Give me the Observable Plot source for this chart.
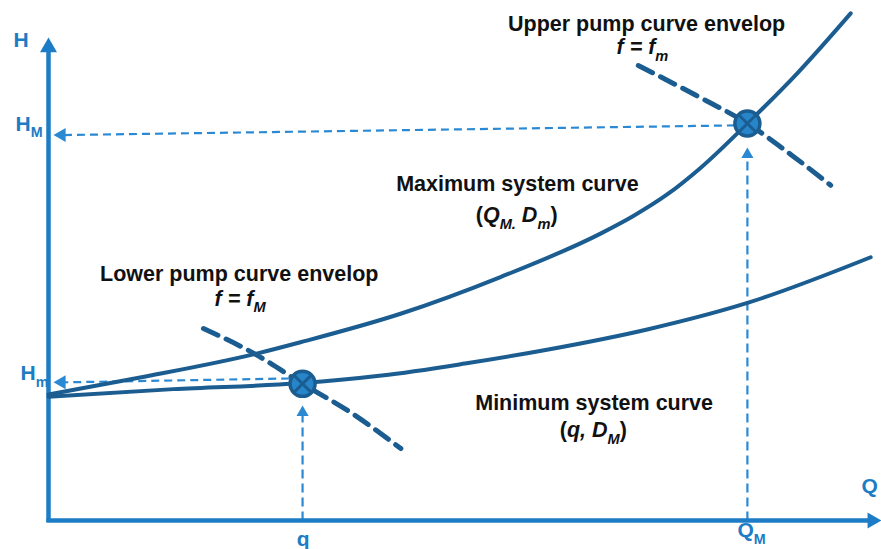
<!DOCTYPE html>
<html>
<head>
<meta charset="utf-8">
<script src="https://cdn.jsdelivr.net/npm/d3@7"></script>
<script src="https://cdn.jsdelivr.net/npm/@observablehq/plot@0.6"></script>
<style>
  html, body { margin: 0; padding: 0; background: #fff; }
  #chart svg { display: block; }
</style>
</head>
<body>
<div id="chart"></div>
<script>
// ---------------- data (schematic units: Q flow 0..100, H head 0..100) ----------------
const qMax = [0, 11, 25.1, 30.25, 42.26, 54.26, 66.27, 70.26, 74.27, 78.27, 83.9, 90, 96.3];
const hMax = [26.1, 29.6, 34.6, 36.9, 42.8, 50.4, 59.4, 63.1, 67.5, 73.0, 82.2, 92.8, 105.0];

const qMin = [0, 15, 30, 40, 50, 60, 72, 84, 98.7];
const hMin = [25.6, 27.2, 28.4, 30.0, 32.5, 35.4, 39.6, 45.1, 54.5];

const qUpperPump = [70.8, 78.3, 83.9, 89.1, 93.9];
const hUpperPump = [94.2, 87.5, 82.2, 75.8, 69.4];

const qLowerPump = [18.6, 24.85, 30.5, 36.25, 42.3];
const hLowerPump = [39.75, 34.4, 28.3, 22.4, 14.9];

// operating points (q, Hm) and (QM, HM)
const opQ = [30.5, 83.9];
const opH = [28.3, 82.2];

// projection arrows
const hProjStartQ = [28.9, 82.4];
const hProjStartH = [29.4, 81.8];
const hProjTipQ = [0.6, 0.6];
const hProjTipH = [28.6, 79.8];
const vProjTipH = [23.8, 77.2];

// axes extents
const axisQmax = 100;
const axisHmax = 100;

// labels
const noteText = [
  "Upper pump curve envelop", "*f = f_{m}*",
  "Maximum system curve", "(*Q_{M.} D_{m}*)",
  "Lower pump curve envelop", "*f = f_{M}*",
  "Minimum system curve", "(*q, D_{M}*)"
];
const noteQ = [71.8, 71.3, 56.3, 56.2, 22.9, 23.0, 65.5, 65.4];
const noteH = [101.3, 96.5, 68.3, 61.7, 49.5, 44.5, 22.8, 17.2];

const axisText = ["H", "H_{M}", "H_{m}", "q", "Q_{M}", "Q"];
const axisTextQ = [-4.2, -3.96, -3.36, 29.8, 82.7, 97.6];
const axisTextH = [98.1, 80.7, 29.0, -5.18, -3.5, 5.6];

// ---------------- styles ----------------
const axisColor = "#1c7cc5";
const projColor = "#2a89d2";
const curveColor = "#1b5d90";
const markerFill = "#2785ca";

const zip = (xs, ys) => xs.map((x, i) => ({x, y: ys[i]}));

const chart = Plot.plot({
  width: 881,
  height: 549,
  marginLeft: 48,
  marginRight: 0,
  marginTop: 37,
  marginBottom: 29,
  x: {domain: [0, axisQmax], axis: null},
  y: {domain: [0, axisHmax], axis: null},
  style: {fontFamily: "'Liberation Sans', Arial, Helvetica, sans-serif", background: "#fff", overflow: "visible"},
  marks: [
    // projection dashed lines
    Plot.link(opQ.map((d, i) => i), {
      x1: hProjStartQ, y1: hProjStartH, x2: hProjTipQ.map(d => d + 1), y2: hProjTipH,
      stroke: projColor, strokeWidth: 2.2, strokeDasharray: "8,5"
    }),
    Plot.link(opQ.map((d, i) => i), {
      x1: opQ, y1: opQ.map(() => 0), x2: opQ, y2: vProjTipH.map(h => h - 1.5),
      stroke: projColor, strokeWidth: 2.2, strokeDasharray: "9,5"
    }),
    Plot.dot(zip(hProjTipQ, hProjTipH), {
      x: "x", y: "y", symbol: "triangle", r: 5.2, rotate: -90, dx: 8.1,
      fill: projColor, stroke: "none"
    }),
    Plot.dot(zip(opQ, vProjTipH), {
      x: "x", y: "y", symbol: "triangle", r: 4.5, dy: 6.9,
      fill: projColor, stroke: "none"
    }),
    // axes
    Plot.link([0, 1], {
      x1: [0, -0.25], y1: [-0.3, 0], x2: [0, axisQmax - 1.5], y2: [axisHmax - 2.5, 0],
      stroke: axisColor, strokeWidth: 4.5
    }),
    Plot.dot([{x: 0, y: axisHmax}], {
      x: "x", y: "y", symbol: "triangle", r: 6.3, dy: 9.8, fill: axisColor, stroke: "none"
    }),
    Plot.dot([{x: axisQmax, y: 0}], {
      x: "x", y: "y", symbol: "triangle", r: 6.0, rotate: 90, dx: -9.3, fill: axisColor, stroke: "none"
    }),
    // system curves
    Plot.line(zip(qMin, hMin), {x: "x", y: "y", curve: "monotone-x", stroke: curveColor, strokeWidth: 4}),
    Plot.line(zip(qMax, hMax), {x: "x", y: "y", curve: "monotone-x", stroke: curveColor, strokeWidth: 4}),
    // pump curve envelopes
    Plot.line(zip(qUpperPump, hUpperPump), {x: "x", y: "y", curve: "monotone-x", stroke: curveColor, strokeWidth: 5, strokeDasharray: "16,9"}),
    Plot.line(zip(qLowerPump, hLowerPump), {x: "x", y: "y", curve: "monotone-x", stroke: curveColor, strokeWidth: 5, strokeDasharray: "16,9"}),
    // operating points
    Plot.dot(zip(opQ, opH), {x: "x", y: "y", r: 12.5, fill: markerFill, stroke: curveColor, strokeWidth: 3.5}),
    Plot.dot(zip(opQ, opH), {x: "x", y: "y", r: 8, symbol: "times", fill: "none", stroke: curveColor, strokeWidth: 3}),
    // annotations
    Plot.text(noteText.map((t, i) => ({t, x: noteQ[i], y: noteH[i]})), {
      x: "x", y: "y", text: "t", textAnchor: "middle", lineAnchor: "bottom",
      fontSize: 21.5, fontWeight: "bold", fill: "#111"
    }),
    Plot.text(axisText.map((t, i) => ({t, x: axisTextQ[i], y: axisTextH[i]})), {
      x: "x", y: "y", text: "t", textAnchor: "start", lineAnchor: "bottom",
      fontSize: 21, fontWeight: "bold", fill: axisColor
    })
  ]
});

// turn simple markup (*italic*, _{subscript}) into tspans
const SVGNS = "http://www.w3.org/2000/svg";
function richify(el) {
  const s = el.textContent;
  if (!/[_*]/.test(s)) return;
  const parts = [];
  let italic = false, buf = "", i = 0;
  const flush = () => { if (buf) parts.push({t: buf, italic, sub: false}); buf = ""; };
  while (i < s.length) {
    if (s[i] === "*") { flush(); italic = !italic; i++; }
    else if (s.startsWith("_{", i)) {
      flush();
      const j = s.indexOf("}", i);
      parts.push({t: s.slice(i + 2, j), italic, sub: true});
      i = j + 1;
    } else { buf += s[i]; i++; }
  }
  flush();
  el.textContent = "";
  let inSub = false;
  for (const p of parts) {
    const ts = document.createElementNS(SVGNS, "tspan");
    if (p.italic) ts.setAttribute("font-style", "italic");
    if (p.sub) {
      ts.setAttribute("font-size", "0.68em");
      if (!inSub) ts.setAttribute("dy", "0.45em");
      inSub = true;
    } else if (inSub) {
      ts.setAttribute("dy", "-0.306em");
      inSub = false;
    }
    ts.textContent = p.t;
    el.appendChild(ts);
  }
}
chart.querySelectorAll("text").forEach(richify);

document.getElementById("chart").appendChild(chart);
</script>
</body>
</html>
